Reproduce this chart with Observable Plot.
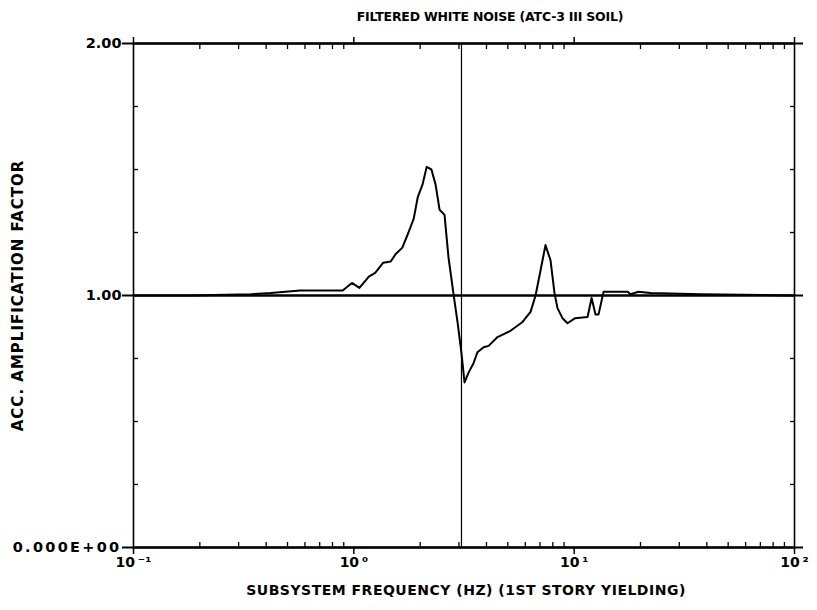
<!DOCTYPE html>
<html>
<head>
<meta charset="utf-8">
<script src="https://cdn.jsdelivr.net/npm/d3@7"></script>
<script src="https://cdn.jsdelivr.net/npm/@observablehq/plot@0.6"></script>
<style>
  html, body { margin: 0; padding: 0; background: #fff; }
  #chart svg { display: block; }
</style>
</head>
<body>
<div id="chart"></div>
<script>
// Subsystem frequency (Hz) and acceleration amplification factor
const freqHz = [0.1, 0.18, 0.34, 0.42, 0.57, 0.89, 0.98, 1.06, 1.17, 1.25, 1.36, 1.47, 1.55, 1.66, 1.77,
  1.87, 1.95, 2.05, 2.14, 2.25, 2.35, 2.45, 2.58, 2.69, 2.84, 2.96, 3.08, 3.18, 3.32, 3.49, 3.64, 3.88,
  4.09, 4.49, 5.14, 5.83, 6.34, 6.68, 7.04, 7.41, 7.81, 8.14, 8.40, 8.85, 9.33, 10.1, 11.5, 12.0, 12.5,
  12.9, 13.6, 17.5, 18.0, 19.6, 22.2, 37.5, 100];
const amplification = [1.0, 1.0, 1.005, 1.01, 1.02, 1.02, 1.05, 1.03, 1.075, 1.09, 1.13, 1.135, 1.165,
  1.19, 1.25, 1.305, 1.39, 1.44, 1.51, 1.50, 1.44, 1.34, 1.32, 1.15, 1.00, 0.89, 0.77, 0.655, 0.695,
  0.73, 0.775, 0.795, 0.80, 0.835, 0.86, 0.895, 0.935, 1.00, 1.10, 1.20, 1.14, 1.01, 0.95, 0.91, 0.89,
  0.91, 0.915, 0.99, 0.925, 0.925, 1.015, 1.015, 1.005, 1.015, 1.01, 1.005, 1.0];

// First-story yielding frequency marker and reference level
const yieldFreq = [3.08];
const unitLevel = [1];

// Tick values and labels
const xMajorTicks = [0.1, 1, 10, 100];
const xTickLabels = ["10\u2009\u207B\u00B9", "10\u2009\u2070", "10\u2009\u00B9", "10\u2009\u00B2"];
const xMinorTicks = [2, 3, 4, 5, 6, 7, 8, 9].flatMap(m => [0.1, 1, 10].map(d => m * d));
const yMajorTicks = [0, 1, 2];
const yTickLabels = ["0.000E+00", "1.00", "2.00"];
const yMinorTicks = [0.25, 0.5, 0.75, 1.25, 1.5, 1.75];

const titleText = "FILTERED WHITE NOISE (ATC-3 III SOIL)";
const xLabelText = "SUBSYSTEM FREQUENCY (HZ) (1ST STORY YIELDING)";
const yLabelText = "ACC. AMPLIFICATION FACTOR";

const curve = freqHz.map((f, i) => ({f, a: amplification[i]}));

const font = "'DejaVu Sans', sans-serif";

const chart = Plot.plot({
  width: 817,
  height: 610,
  marginTop: 43,
  marginBottom: 63,
  marginLeft: 133,
  marginRight: 23,
  style: {fontFamily: font, fontWeight: "bold", color: "black", background: "white"},
  x: {type: "log", domain: [0.1, 100], label: null},
  y: {domain: [0, 2], label: null},
  marks: [
    // minor ticks, drawn inward
    Plot.axisX(xMinorTicks, {anchor: "bottom", tickSize: 5, dy: -5, text: null, label: null, strokeWidth: 1.3}),
    Plot.axisX(xMinorTicks, {anchor: "top", tickSize: 5, dy: 5, text: null, label: null, strokeWidth: 1.3}),
    Plot.axisY(yMinorTicks, {anchor: "left", tickSize: 5, dx: 5, text: null, label: null, strokeWidth: 1.3}),
    Plot.axisY(yMinorTicks, {anchor: "right", tickSize: 5, dx: -5, text: null, label: null, strokeWidth: 1.3}),
    // major ticks, drawn outward
    Plot.axisX(xMajorTicks, {anchor: "bottom", tickSize: 7, tickPadding: 3, fontSize: 14,
      tickFormat: d => xTickLabels[xMajorTicks.indexOf(d)], label: null, strokeWidth: 1.5}),
    Plot.axisX(xMajorTicks, {anchor: "top", tickSize: 7, text: null, label: null, strokeWidth: 1.5}),
    Plot.axisY(yMajorTicks, {anchor: "left", tickSize: 11, tickPadding: 1, fontSize: 14.5,
      tickFormat: d => yTickLabels[yMajorTicks.indexOf(d)], label: null, strokeWidth: 2}),
    Plot.axisY(yMajorTicks, {anchor: "right", tickSize: 8, text: null, label: null, strokeWidth: 2}),
    // frame
    Plot.frame({stroke: "black", strokeWidth: 1.6}),
    Plot.ruleY([0, 2], {stroke: "black", strokeWidth: 2.6}),
    Plot.ruleY(unitLevel, {stroke: "black", strokeWidth: 2.6}),
    Plot.ruleX(yieldFreq, {stroke: "black", strokeWidth: 1.2}),
    // response curve
    Plot.line(curve, {x: "f", y: "a", stroke: "black", strokeWidth: 2, strokeLinejoin: "round"}),
    // titles
    Plot.text([titleText], {frameAnchor: "top", dx: 26, dy: -31, fontSize: 12.5, fontWeight: "bold"}),
    Plot.text([xLabelText], {frameAnchor: "bottom", dx: 2, dy: 47, fontSize: 14, fontWeight: "bold"}),
    Plot.text([yLabelText], {frameAnchor: "left", textAnchor: "middle", dx: -115, rotate: -90,
      fontSize: 15, fontWeight: "bold"})
  ]
});

// Plotter-style lettering: wide spacing on the axis titles and the zero label
const svg = d3.select(chart);
svg.selectAll("text").filter(function() { return this.textContent === titleText; })
  .attr("letter-spacing", -0.2);
svg.selectAll("text").filter(function() { return this.textContent === xLabelText; })
  .attr("letter-spacing", 0.5);
svg.selectAll("text").filter(function() { return this.textContent === yLabelText; })
  .attr("letter-spacing", 1);
svg.selectAll("text").filter(function() { return this.textContent === yTickLabels[0]; })
  .attr("letter-spacing", 2.3);

document.getElementById("chart").appendChild(chart);
</script>
</body>
</html>
